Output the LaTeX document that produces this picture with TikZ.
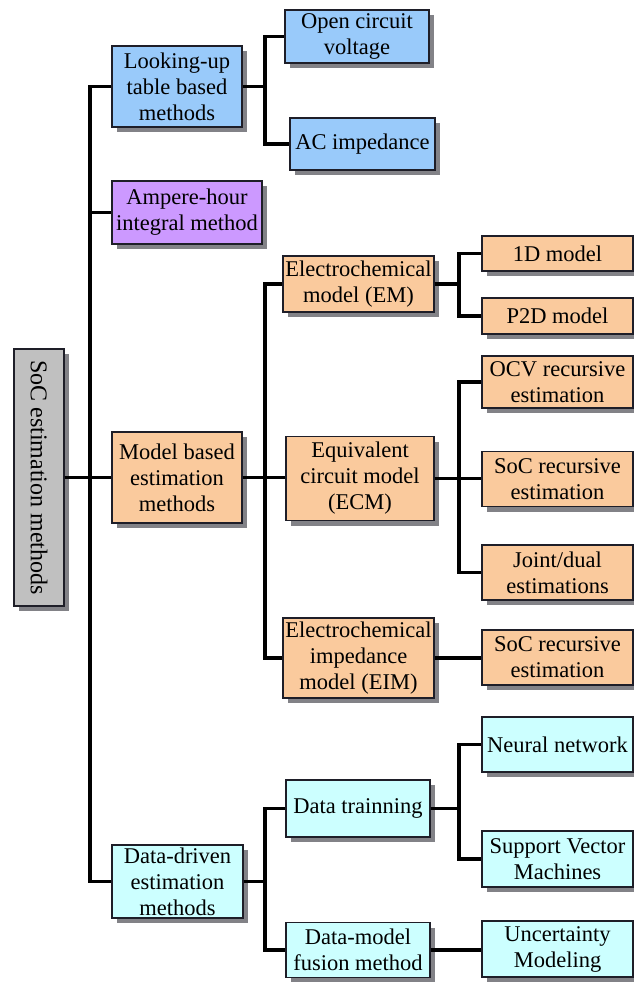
\documentclass[tikz,border=0pt]{standalone}
\usepackage{fontspec}
\usepackage{graphicx}
\setmainfont{Liberation Serif}
\definecolor{cblue}{RGB}{153,202,250}
\definecolor{cpurple}{RGB}{204,153,255}
\definecolor{corange}{RGB}{250,202,157}
\definecolor{ccyan}{RGB}{204,255,255}
\definecolor{cgray}{RGB}{192,192,192}
\definecolor{cborder}{RGB}{30,30,40}
\definecolor{cshadow}{RGB}{130,130,135}
\tikzset{
  box/.style={draw=cborder, line width=1.4pt, inner sep=0pt, align=center,
    font=\fontsize{22.5}{26}\selectfont,
    preaction={fill=cshadow, draw=none, transform canvas={shift={(5pt,-5pt)}}}},
  wire/.style={line width=3.6pt, draw=black}
}
\begin{document}
\begin{tikzpicture}[x=1pt,y=-1pt]
\useasboundingbox (0,0) rectangle (634,982);
% nodes
\node[box, fill=cgray, minimum width=50pt, minimum height=257pt] (root) at (39,477.5) {\rotatebox{-90}{\fontsize{24}{28}\selectfont SoC estimation methods}};
\node[box, fill=cblue, minimum width=130pt, minimum height=81pt] (look) at (177,86.5) {Looking-up\\table based\\methods};
\node[box, fill=cblue, minimum width=144pt, minimum height=53pt] (ocv) at (357,36.5) {Open circuit\\voltage};
\node[box, fill=cblue, minimum width=145pt, minimum height=52pt] (ac) at (362.5,144) {AC impedance};
\node[box, fill=cpurple, minimum width=150pt, minimum height=63pt] (amp) at (187,212.5) {Ampere-hour\\integral method};
\node[box, fill=corange, minimum width=130pt, minimum height=91pt] (model) at (177,477.5) {Model based\\estimation\\methods};
\node[box, fill=corange, minimum width=151pt, minimum height=56pt] (em) at (358.5,284) {Electrochemical\\model (EM)};
\node[box, fill=corange, minimum width=148pt, minimum height=84pt] (ecm) at (360,478.5) {Equivalent\\circuit model\\(ECM)};
\node[box, fill=corange, minimum width=151pt, minimum height=80pt] (eim) at (358.5,658) {Electrochemical\\impedance\\model (EIM)};
\node[box, fill=corange, minimum width=151pt, minimum height=35pt] (m1d) at (557.5,253.5) {1D model};
\node[box, fill=corange, minimum width=151pt, minimum height=36pt] (p2d) at (557.5,316) {P2D model};
\node[box, fill=corange, minimum width=151pt, minimum height=52pt] (ocvrec) at (557.5,382) {OCV recursive\\estimation};
\node[box, fill=corange, minimum width=151pt, minimum height=55pt] (socrec) at (557.5,479) {SoC recursive\\estimation};
\node[box, fill=corange, minimum width=151pt, minimum height=55pt] (joint) at (557.5,572.5) {Joint/dual\\estimations};
\node[box, fill=corange, minimum width=151pt, minimum height=55pt] (socrecb) at (557.5,657.5) {SoC recursive\\estimation};
\node[box, fill=ccyan, minimum width=131pt, minimum height=73pt] (dd) at (177.5,881.5) {Data-driven\\estimation\\methods};
\node[box, fill=ccyan, minimum width=144pt, minimum height=57pt] (dt) at (358,808.5) {Data trainning};
\node[box, fill=ccyan, minimum width=144pt, minimum height=55pt] (dmf) at (358,950) {Data-model\\fusion method};
\node[box, fill=ccyan, minimum width=151pt, minimum height=55pt] (nn) at (557.5,744.5) {Neural network};
\node[box, fill=ccyan, minimum width=151pt, minimum height=56pt] (svm) at (557.5,859) {Support Vector\\Machines};
\node[box, fill=ccyan, minimum width=151pt, minimum height=56pt] (unc) at (557.5,949) {Uncertainty\\Modeling};
% trunk x positions
\coordinate (t0) at (90,0);
\coordinate (t1) at (265,0);
\coordinate (t2) at (459,0);
% connectors
\draw[wire] (root.east) -- (root.east -| t0) |- (look.west);
\draw[wire] (root.east) -- (root.east -| t0) |- (amp.west);
\draw[wire] (root.east) -- (root.east -| model.west);
\draw[wire] (root.east) -- (root.east -| t0) |- (dd.west);
\draw[wire] (look.east) -- (look.east -| t1) |- (ocv.west);
\draw[wire] (look.east) -- (look.east -| t1) |- (ac.west);
\draw[wire] (model.east) -- (model.east -| t1) |- (em.west);
\draw[wire] (model.east) -- (model.east -| ecm.west);
\draw[wire] (model.east) -- (model.east -| t1) |- (eim.west);
\draw[wire] (em.east) -- (em.east -| t2) |- (m1d.west);
\draw[wire] (em.east) -- (em.east -| t2) |- (p2d.west);
\draw[wire] (ecm.east) -- (ecm.east -| t2) |- (ocvrec.west);
\draw[wire] (ecm.east) -- (ecm.east -| socrec.west);
\draw[wire] (ecm.east) -- (ecm.east -| t2) |- (joint.west);
\draw[wire] (eim.east) -- (eim.east -| socrecb.west);
\draw[wire] (dd.east) -- (dd.east -| t1) |- (dt.west);
\draw[wire] (dd.east) -- (dd.east -| t1) |- (dmf.west);
\draw[wire] (dt.east) -- (dt.east -| t2) |- (nn.west);
\draw[wire] (dt.east) -- (dt.east -| t2) |- (svm.west);
\draw[wire] (dmf.east) -- (dmf.east -| unc.west);
\end{tikzpicture}
\end{document}
